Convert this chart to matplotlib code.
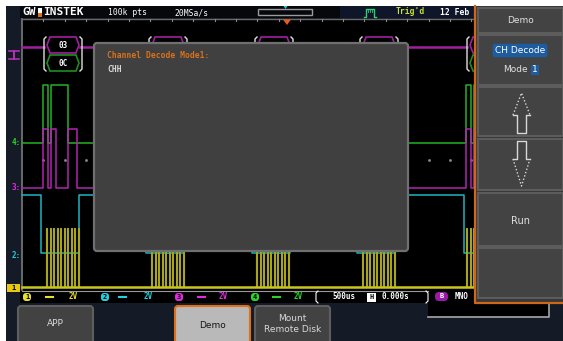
import matplotlib.pyplot as plt
from matplotlib.patches import Rectangle, FancyBboxPatch, Polygon

W, H = 563, 341
MONO = "DejaVu Sans Mono"

# ---- values (pixel units of the screenshot) ----
grid_left, grid_right, grid_top, grid_bottom = 22, 475, 19, 288
tick_step = 21.4

# decoded packets: left bracket of each packet and its labels
packet_x = [42, 147, 253, 358, 465]
packet_hi = ["03", "", "", "", ""]
packet_lo = ["0C", "", "", "", ""]

# toggle points relative to packet start
ch4_edges = [0.7, 5.7, 9.3, 26.3]                  # green, idle low
ch3_edges = [0.7, 5.7, 9.0, 14.0, 26.3, 35.3]      # magenta, idle low
ch2_edges = [-1.0, 37.0]                           # cyan, idle high
burst_x = [46, 151, 256, 362, 466]                 # yellow clock bursts
clk_offsets = [0, 3.5, 7, 10.5, 14, 17.5, 21, 24.5, 28, 31.5]

# levels (idle, active)
ch4_levels = (142.5, 85)
ch3_levels = (188, 129)
ch2_levels = (195, 253)
ch1_levels = (287, 228)

ch_names = ["1", "2", "3", "4"]
ch_colors = ["#c9c51f", "#1db4c2", "#b324b3", "#22b322"]
lbl_colors = ["#e6e02a", "#25d0e0", "#e22ce2", "#2ad42a"]
ch_icon_x = [27, 105, 179, 255]
ch_dash_x = [46, 119, 198, 273]
ch_volt_x = [73, 148, 223, 298]
ch_volts = ["2V", "2V", "2V", "2V"]

side_buttons = [(8, 33), (35, 85), (87, 136), (139, 190), (193, 246), (248, 298)]
bottom_buttons = [(18, 93, "APP"), (175, 250, "Demo"), (255, 330, "Mount\nRemote Disk")]


def trace(edges, levels, reps):
    idle, active = levels
    xs, ys = [grid_left], [idle]
    for px in reps:
        state = False
        for e in edges:
            state = not state
            xs.append(px + e)
            ys.append(active if state else idle)
    xs.append(grid_right)
    ys.append(idle)
    return xs, ys


fig = plt.figure(figsize=(W / 100, H / 100), dpi=100)
ax = fig.add_axes([0, 0, 1, 1])
ax.set_xlim(0, W)
ax.set_ylim(H, 0)
ax.axis("off")
fig.patch.set_facecolor("white")

# screen frame
ax.add_patch(Rectangle((6, 6), W - 6, H - 6, fc="#141a26", ec="none", zorder=0))
ax.add_patch(Rectangle((20, 6), 320, 12, fc="#06080c", ec="none", zorder=1))
ax.add_patch(Rectangle((340, 6), 136, 12, fc="#0f1629", ec="none", zorder=1))
ax.add_patch(Rectangle((grid_left, grid_top), grid_right - grid_left,
                       grid_bottom - grid_top + 2, fc="black", ec="none", zorder=1))
ax.plot([grid_left, grid_left], [grid_top, grid_bottom + 2], color="#7a7a7a", lw=1.2, zorder=2)
ax.plot([grid_left, grid_right], [grid_top, grid_top], color="#6a6a6a", lw=1, zorder=2)

# graticule ticks and centre dots
t = grid_left + tick_step
while t < grid_right:
    ax.plot([t, t], [grid_top, grid_top + 2], color="#8a8a8a", lw=0.8, zorder=2)
    ax.plot([t], [160], marker="s", ms=0.9, color="#8a8a8a", zorder=2)
    t += tick_step

# status bar under the graticule
ax.add_patch(Rectangle((20, 290), 408, 13, fc="black", ec="none", zorder=1))
ax.add_patch(Rectangle((428, 290), 122, 27, fc="black", ec="none", zorder=1))
ax.plot([428, 549, 549], [317, 317, 303], color="#a8a8a8", lw=1.2, zorder=2)
ax.plot([grid_left, 428], [290.5, 290.5], color="#9a9a9a", lw=0.8, zorder=2)

# header
ax.text(22, 12, "GW", color="white", fontsize=8, fontweight="bold",
        family=MONO, va="center", ha="left", zorder=5)
ax.add_patch(Rectangle((38, 8), 4, 5, fc="white", ec="none", zorder=6))
ax.add_patch(Rectangle((38, 13), 4, 4, fc="#e07018", ec="none", zorder=6))
ax.text(43.5, 12, "INSTEK", color="white", fontsize=8, fontweight="bold",
        family=MONO, va="center", ha="left", zorder=5)
ax.text(108, 12.5, "100k pts", color="white", fontsize=5.8, family=MONO,
        va="center", zorder=5)
ax.text(174, 12.5, "20MSa/s", color="white", fontsize=5.8, family=MONO,
        va="center", zorder=5)
ax.add_patch(Rectangle((258, 9), 54, 6, fc="none", ec="#9a9a9a", lw=1, zorder=5))
ax.add_patch(Polygon([[283.5, 6], [287.5, 6], [285.5, 9]], fc="#20d0e0", ec="none", zorder=5))
ax.add_patch(Polygon([[283, 19.5], [291, 19.5], [287, 25]], fc="#f05a18", ec="none", zorder=5))
ax.plot([364, 366, 366, 374, 374, 376], [17, 17, 9, 9, 17, 17], color="#30d070", lw=1, zorder=5)
for k in range(4):
    ax.plot([367.5 + 2 * k, 367.5 + 2 * k], [10, 12], color="#30d070", lw=0.6, zorder=5)
ax.text(396, 11.5, "Trig'd", color="#c8e030", fontsize=5.8, family=MONO,
        fontweight="bold", va="center", zorder=5)
ax.text(440, 12.5, "12 Feb", color="white", fontsize=5.8, family=MONO,
        fontweight="bold", va="center", zorder=5)

# waveforms
xs, ys = trace(ch4_edges, ch4_levels, packet_x)
ax.plot(xs, ys, drawstyle="steps-post", color=ch_colors[3], lw=1.1, zorder=3)
xs, ys = trace(ch3_edges, ch3_levels, packet_x)
ax.plot(xs, ys, drawstyle="steps-post", color=ch_colors[2], lw=1.1, zorder=3)
xs, ys = trace(ch2_edges, ch2_levels, packet_x)
ax.plot(xs, ys, drawstyle="steps-post", color=ch_colors[1], lw=1.1, zorder=3)

clk_x, clk_y = [grid_left], [ch1_levels[0]]
for b in burst_x:
    for o in clk_offsets:
        clk_x += [b + o, b + o + 1.0]
        clk_y += [ch1_levels[1], ch1_levels[0]]
clk_x.append(grid_right)
clk_y.append(ch1_levels[0])
ax.plot(clk_x, clk_y, drawstyle="steps-post", color="#a8a420", lw=0.8, zorder=3)
ax.plot([grid_left, grid_right], [ch1_levels[0], ch1_levels[0]], color=ch_colors[0], lw=1.8, zorder=3)

# decode bus
bus_y = 47
bus_pts = [grid_left] + [p for px in packet_x for p in (px + 2, px + 38)] + [grid_right]
for i in range(0, len(bus_pts) - 1, 2):
    ax.plot([bus_pts[i], bus_pts[i + 1]], [bus_y, bus_y], color="#a020a0", lw=1.8, zorder=3)
for px, hi, lo in zip(packet_x, packet_hi, packet_lo):
    for y0, col, txt in ((37, "#a020a0", hi), (55, "#1e8f1e", lo)):
        hexagon = [[px + 5, y0 + 8], [px + 8, y0], [px + 34, y0], [px + 37, y0 + 8],
                   [px + 34, y0 + 16], [px + 8, y0 + 16]]
        ax.add_patch(Polygon(hexagon, fc="black", ec=col, lw=1.2, zorder=3))
        ax.text(px + 21, y0 + 8.5, txt, color="white", fontsize=5.5, family=MONO,
                fontweight="bold", ha="center", va="center", zorder=4)
    ax.plot([px + 4, px + 2, px + 2, px + 4], [37, 39, 69, 71], color="#e0e0e0", lw=1, zorder=4)
    ax.plot([px + 38, px + 40, px + 40, px + 38], [37, 39, 69, 71], color="#e0e0e0", lw=1, zorder=4)

# left-side channel markers
ax.plot([9, 19], [51, 51], color="#b030b0", lw=1.2, zorder=5)
ax.plot([9, 19], [59, 59], color="#b030b0", lw=1.2, zorder=5)
ax.plot([14, 14], [51, 59], color="#b030b0", lw=1.5, zorder=5)
for name, col, lev in (("4:", lbl_colors[3], ch4_levels[0]), ("3:", lbl_colors[2], ch3_levels[0]),
                       ("2:", lbl_colors[1], 255)):
    ax.text(16, lev, name, color=col, fontsize=5.5, family=MONO, fontweight="bold",
            ha="center", va="center", zorder=5)
ax.add_patch(Rectangle((7, 284), 13, 8, fc="#e8c810", ec="none", zorder=5))
ax.text(13.5, 288, "1", color="black", fontsize=5, family=MONO, fontweight="bold",
        ha="center", va="center", zorder=6)

# channel scale labels in the status bar
for name, col, ix, dx, vx, v in zip(ch_names, lbl_colors, ch_icon_x, ch_dash_x, ch_volt_x, ch_volts):
    ax.add_patch(FancyBboxPatch((ix - 4, 293), 8, 8, boxstyle="round,pad=0,rounding_size=3",
                                fc=col, ec="none", zorder=5))
    ax.text(ix, 297, name, color="black", fontsize=5, family=MONO, fontweight="bold",
            ha="center", va="center", zorder=6)
    ax.plot([dx, dx + 7], [297, 297], color=col, lw=1.5, zorder=5)
    ax.text(vx, 296.5, v, color=col, fontsize=5.5, family=MONO, fontweight="bold",
            ha="center", va="center", zorder=5)
ax.plot([318, 316, 316, 318], [291, 293, 301, 303], color="white", lw=0.8, zorder=5)
ax.plot([426, 428, 428, 426], [291, 293, 301, 303], color="white", lw=0.8, zorder=5)
ax.text(344, 296.5, "500us", color="white", fontsize=5.5, family=MONO, fontweight="bold",
        ha="center", va="center", zorder=5)
ax.add_patch(Rectangle((367, 292.5), 9, 9, fc="white", ec="none", zorder=5))
ax.text(371.5, 297, "H", color="black", fontsize=5, family=MONO, fontweight="bold",
        ha="center", va="center", zorder=6)
ax.text(395, 296.5, "0.000s", color="white", fontsize=5.5, family=MONO, fontweight="bold",
        ha="center", va="center", zorder=5)
ax.add_patch(FancyBboxPatch((435, 292), 13, 9, boxstyle="round,pad=0,rounding_size=4",
                            fc="#9a1aa8", ec="none", zorder=5))
ax.text(441.5, 296.5, "B", color="white", fontsize=5, family=MONO, fontweight="bold",
        ha="center", va="center", zorder=6)
ax.text(455, 296.5, "MNO", color="white", fontsize=5.5, family=MONO, fontweight="bold",
        ha="left", va="center", zorder=5)

# message dialog
ax.add_patch(FancyBboxPatch((94, 43), 314, 208, boxstyle="round,pad=0,rounding_size=3",
                            fc="#404040", ec="#707070", lw=1.6, zorder=7))
ax.text(107, 56, "Channel Decode Mode1:", color="#d9721c", fontsize=5.8, family=MONO,
        fontweight="bold", va="center", zorder=8)
ax.text(107, 69.5, "CHH", color="#d8d8d8", fontsize=5.8, family=MONO,
        fontweight="bold", va="center", zorder=8)

# right-hand soft-key panel
ax.add_patch(Rectangle((475, 6), 88, 297, fc="#373737", ec="none", zorder=7))
ax.plot([475, 475, 563], [6, 303, 303], color="#d0661a", lw=1.6, zorder=9)
for y0, y1 in side_buttons:
    ax.add_patch(Rectangle((478, y0), 85, y1 - y0, fc="#434343", ec="#5c5c5c", lw=1.5, zorder=8))
ax.text(520, 20.5, "Demo", color="#e0e0e0", fontsize=6.5, ha="center", va="center", zorder=9)
ax.text(520, 50.5, "CH Decode", color="white", fontsize=6.5, ha="center", va="center", zorder=10,
        bbox=dict(boxstyle="round,pad=0.25", fc="#1d5c9e", ec="none"))
ax.text(515, 70, "Mode", color="#e0e0e0", fontsize=6.5, ha="center", va="center", zorder=9)
ax.text(535, 70, "1", color="white", fontsize=6.5, ha="center", va="center", zorder=10,
        bbox=dict(boxstyle="square,pad=0.1", fc="#1d5c9e", ec="none"))
ax.text(521, 221, "Run", color="#e0e0e0", fontsize=7, ha="center", va="center", zorder=9)

# up and down arrows
ax.plot([513, 521.5, 530], [115, 93, 115], color="#d8d8d8", lw=1, ls=(0, (1, 1.5)), zorder=9)
ax.plot([513, 517, 517, 526, 526, 530], [115, 115, 133, 133, 115, 115], color="#d8d8d8", lw=1, zorder=9)
ax.plot([513, 521.5, 530], [159, 186, 159], color="#d8d8d8", lw=1, ls=(0, (1, 1.5)), zorder=9)
ax.plot([513, 517, 517, 526, 526, 530], [159, 159, 141, 141, 159, 159], color="#d8d8d8", lw=1, zorder=9)

# bottom soft keys
for x0, x1, label in bottom_buttons:
    active = label == "Demo"
    ax.add_patch(FancyBboxPatch((x0, 306), x1 - x0, 40, boxstyle="round,pad=0,rounding_size=3",
                                fc="#b9b9b9" if active else "#424242",
                                ec="#e07018" if active else "#5e5e5e", lw=1.5, zorder=5))
    ax.text((x0 + x1) / 2, 325 if active else 324, label, color="#151515" if active else "#d8d8d8",
            fontsize=6.5, ha="center", va="center", linespacing=1.3, zorder=6)

fig.savefig("out.png", dpi=100, facecolor="white")
